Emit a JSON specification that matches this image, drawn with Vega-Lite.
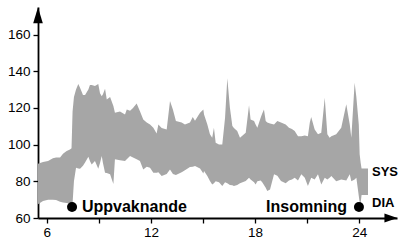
{
  "$schema": "https://vega.github.io/schema/vega-lite/v6.json",
  "width": 359,
  "height": 211,
  "autosize": {"type": "none"},
  "padding": {"left": 38, "top": 7, "right": 3, "bottom": 22},
  "background": "white",
  "config": {"view": {"stroke": null}},
  "datasets": {
    "bp": [
      {"h": 5.50, "sys": 89.5, "dia": 67.5},
      {"h": 5.79, "sys": 90.5, "dia": 69.3},
      {"h": 6.08, "sys": 91, "dia": 70},
      {"h": 6.36, "sys": 92.5, "dia": 70},
      {"h": 6.54, "sys": 93, "dia": 69.8},
      {"h": 6.77, "sys": 93, "dia": 68.8},
      {"h": 6.94, "sys": 95, "dia": 68.4},
      {"h": 7.15, "sys": 96.5, "dia": 68.2},
      {"h": 7.34, "sys": 97.4, "dia": 67.8},
      {"h": 7.43, "sys": 98, "dia": 67.8},
      {"h": 7.49, "sys": 118, "dia": 68},
      {"h": 7.57, "sys": 126, "dia": 80},
      {"h": 7.69, "sys": 130, "dia": 87.4},
      {"h": 7.82, "sys": 133, "dia": 87},
      {"h": 7.92, "sys": 131, "dia": 86.9},
      {"h": 8.09, "sys": 127, "dia": 88.5},
      {"h": 8.21, "sys": 127, "dia": 90.2},
      {"h": 8.40, "sys": 130, "dia": 93.4},
      {"h": 8.49, "sys": 132.5, "dia": 91},
      {"h": 8.59, "sys": 132.5, "dia": 89.2},
      {"h": 8.78, "sys": 132, "dia": 91},
      {"h": 8.97, "sys": 133, "dia": 86.9},
      {"h": 9.07, "sys": 128, "dia": 90},
      {"h": 9.17, "sys": 126.4, "dia": 93.8},
      {"h": 9.24, "sys": 127.5, "dia": 90},
      {"h": 9.36, "sys": 130.4, "dia": 84.7},
      {"h": 9.46, "sys": 124.6, "dia": 84.5},
      {"h": 9.65, "sys": 126, "dia": 83.8},
      {"h": 9.84, "sys": 121, "dia": 78.5},
      {"h": 9.93, "sys": 117.4, "dia": 92},
      {"h": 10.22, "sys": 118, "dia": 91.5},
      {"h": 10.51, "sys": 116.4, "dia": 91},
      {"h": 10.61, "sys": 119.2, "dia": 92},
      {"h": 10.80, "sys": 118.5, "dia": 93.8},
      {"h": 10.97, "sys": 120, "dia": 93},
      {"h": 11.18, "sys": 122.4, "dia": 92},
      {"h": 11.37, "sys": 118.2, "dia": 91},
      {"h": 11.56, "sys": 113.7, "dia": 86.5},
      {"h": 11.76, "sys": 112, "dia": 88},
      {"h": 11.95, "sys": 111, "dia": 87.4},
      {"h": 12.14, "sys": 109.2, "dia": 84.7},
      {"h": 12.33, "sys": 106, "dia": 84.7},
      {"h": 12.43, "sys": 111, "dia": 85},
      {"h": 12.62, "sys": 109, "dia": 82.9},
      {"h": 12.91, "sys": 108.3, "dia": 84},
      {"h": 13.10, "sys": 123.7, "dia": 86.5},
      {"h": 13.27, "sys": 119, "dia": 84},
      {"h": 13.44, "sys": 112.8, "dia": 83.5},
      {"h": 13.77, "sys": 112, "dia": 85},
      {"h": 13.96, "sys": 111, "dia": 86},
      {"h": 14.25, "sys": 112, "dia": 87.8},
      {"h": 14.41, "sys": 115, "dia": 88},
      {"h": 14.54, "sys": 113, "dia": 88.3},
      {"h": 14.83, "sys": 117.4, "dia": 87},
      {"h": 15.02, "sys": 119.2, "dia": 84.2},
      {"h": 15.06, "sys": 116.4, "dia": 85.6},
      {"h": 15.25, "sys": 111, "dia": 82.9},
      {"h": 15.40, "sys": 105.6, "dia": 80.1},
      {"h": 15.53, "sys": 103.8, "dia": 78.3},
      {"h": 15.63, "sys": 109.2, "dia": 79},
      {"h": 15.73, "sys": 101, "dia": 80},
      {"h": 15.92, "sys": 100.1, "dia": 79.5},
      {"h": 16.11, "sys": 100.1, "dia": 77.4},
      {"h": 16.27, "sys": 114.6, "dia": 79.5},
      {"h": 16.40, "sys": 136.1, "dia": 79},
      {"h": 16.55, "sys": 120.1, "dia": 78},
      {"h": 16.69, "sys": 110.1, "dia": 77.8},
      {"h": 16.78, "sys": 109, "dia": 77.4},
      {"h": 16.97, "sys": 107.4, "dia": 78},
      {"h": 17.13, "sys": 103.8, "dia": 79},
      {"h": 17.46, "sys": 106.5, "dia": 80.1},
      {"h": 17.65, "sys": 121.5, "dia": 82},
      {"h": 17.74, "sys": 113.7, "dia": 81},
      {"h": 17.94, "sys": 112.8, "dia": 79.5},
      {"h": 18.03, "sys": 111, "dia": 78.3},
      {"h": 18.13, "sys": 109.2, "dia": 80},
      {"h": 18.32, "sys": 114.6, "dia": 80.5},
      {"h": 18.41, "sys": 117, "dia": 79.5},
      {"h": 18.51, "sys": 119.2, "dia": 78},
      {"h": 18.61, "sys": 112.8, "dia": 76.5},
      {"h": 18.70, "sys": 112, "dia": 74.7},
      {"h": 18.86, "sys": 111.5, "dia": 75.5},
      {"h": 19.09, "sys": 111, "dia": 83.8},
      {"h": 19.28, "sys": 112.8, "dia": 83},
      {"h": 19.49, "sys": 112, "dia": 80.1},
      {"h": 19.76, "sys": 111, "dia": 79},
      {"h": 19.95, "sys": 109.2, "dia": 80.5},
      {"h": 20.12, "sys": 108.5, "dia": 81},
      {"h": 20.28, "sys": 107.4, "dia": 82},
      {"h": 20.47, "sys": 104.6, "dia": 80.5},
      {"h": 20.66, "sys": 104.6, "dia": 83.8},
      {"h": 20.86, "sys": 105, "dia": 82},
      {"h": 21.04, "sys": 104.6, "dia": 77.4},
      {"h": 21.15, "sys": 112, "dia": 80},
      {"h": 21.23, "sys": 115, "dia": 82},
      {"h": 21.43, "sys": 108.3, "dia": 81},
      {"h": 21.62, "sys": 105.6, "dia": 83.8},
      {"h": 21.81, "sys": 106.5, "dia": 78.3},
      {"h": 22.01, "sys": 125.5, "dia": 82},
      {"h": 22.16, "sys": 105.6, "dia": 81},
      {"h": 22.29, "sys": 103.8, "dia": 82},
      {"h": 22.39, "sys": 104.5, "dia": 82.9},
      {"h": 22.67, "sys": 105.6, "dia": 80},
      {"h": 22.96, "sys": 109.2, "dia": 81},
      {"h": 23.25, "sys": 122, "dia": 80.5},
      {"h": 23.45, "sys": 111, "dia": 83.8},
      {"h": 23.54, "sys": 103.8, "dia": 80},
      {"h": 23.73, "sys": 133.7, "dia": 81},
      {"h": 23.83, "sys": 126, "dia": 82},
      {"h": 23.97, "sys": 111, "dia": 72},
      {"h": 24.02, "sys": 94.7, "dia": 68.5},
      {"h": 24.08, "sys": 90, "dia": 68.4},
      {"h": 24.13, "sys": 87, "dia": 72.5},
      {"h": 24.50, "sys": 87, "dia": 72.5}
    ],
    "events": [
      {"h": 7.46, "v": 66, "label": "Uppvaknande", "lx": 8.03, "align": "left"},
      {"h": 23.98, "v": 66, "label": "Insomning", "lx": 23.29, "align": "right"}
    ],
    "series": [
      {"h": 24.73, "v": 85, "label": "SYS"},
      {"h": 24.73, "v": 68.2, "label": "DIA"}
    ],
    "arrows": [
      {"h": 5.5, "v": 170.5, "dir": "up"},
      {"h": 25.82, "v": 60, "dir": "right"}
    ]
  },
  "layer": [
    {
      "data": {"name": "bp"},
      "mark": {"type": "area", "color": "#a6a6a6", "interpolate": "linear"},
      "encoding": {
        "x": {
          "field": "h", "type": "quantitative",
          "scale": {"domain": [5.5, 26.17], "nice": false, "zero": false},
          "axis": {
            "values": [6, 9, 12, 15, 18, 21, 24],
            "labelExpr": "datum.value % 6 == 0 ? datum.label : ''",
            "title": null, "grid": false,
            "domainColor": "black", "domainWidth": 1.8,
            "tickColor": "black", "tickWidth": 1.3, "tickSize": 5,
            "labelFont": "Liberation Sans", "labelFontSize": 13.5, "labelColor": "black",
            "labelPadding": 2
          }
        },
        "y": {
          "field": "sys", "type": "quantitative",
          "scale": {"domain": [60, 175], "nice": false, "zero": false},
          "axis": {
            "values": [60, 80, 100, 120, 140, 160],
            "title": null, "grid": false,
            "domainColor": "black", "domainWidth": 1.8,
            "tickColor": "black", "tickWidth": 1.3, "tickSize": 5,
            "labelFont": "Liberation Sans", "labelFontSize": 13.5, "labelColor": "black",
            "labelPadding": 3
          }
        },
        "y2": {"field": "dia"}
      }
    },
    {
      "data": {"name": "events"},
      "mark": {"type": "point", "shape": "circle", "filled": true, "color": "black", "size": 100, "opacity": 1},
      "encoding": {
        "x": {"field": "h", "type": "quantitative"},
        "y": {"field": "v", "type": "quantitative"}
      }
    },
    {
      "data": {"name": "events"},
      "transform": [{"filter": "datum.align == 'left'"}],
      "mark": {"type": "text", "align": "left", "baseline": "middle", "font": "Liberation Sans", "fontWeight": "bold", "fontSize": 16, "color": "black"},
      "encoding": {
        "x": {"field": "lx", "type": "quantitative"},
        "y": {"field": "v", "type": "quantitative"},
        "text": {"field": "label"}
      }
    },
    {
      "data": {"name": "events"},
      "transform": [{"filter": "datum.align == 'right'"}],
      "mark": {"type": "text", "align": "right", "baseline": "middle", "font": "Liberation Sans", "fontWeight": "bold", "fontSize": 16, "color": "black"},
      "encoding": {
        "x": {"field": "lx", "type": "quantitative"},
        "y": {"field": "v", "type": "quantitative"},
        "text": {"field": "label"}
      }
    },
    {
      "data": {"name": "series"},
      "mark": {"type": "text", "align": "left", "baseline": "middle", "font": "Liberation Sans", "fontWeight": "bold", "fontSize": 13, "color": "black"},
      "encoding": {
        "x": {"field": "h", "type": "quantitative"},
        "y": {"field": "v", "type": "quantitative"},
        "text": {"field": "label"}
      }
    },
    {
      "data": {"name": "arrows"},
      "transform": [{"filter": "datum.dir == 'up'"}],
      "mark": {"type": "point", "shape": "M0,-1L0.6,1L-0.6,1Z", "filled": true, "color": "black", "size": 256, "opacity": 1},
      "encoding": {
        "x": {"field": "h", "type": "quantitative"},
        "y": {"field": "v", "type": "quantitative"}
      }
    },
    {
      "data": {"name": "arrows"},
      "transform": [{"filter": "datum.dir == 'right'"}],
      "mark": {"type": "point", "shape": "M1,0L-1,-0.7L-1,0.7Z", "filled": true, "color": "black", "size": 169, "opacity": 1},
      "encoding": {
        "x": {"field": "h", "type": "quantitative"},
        "y": {"field": "v", "type": "quantitative"}
      }
    }
  ]
}
